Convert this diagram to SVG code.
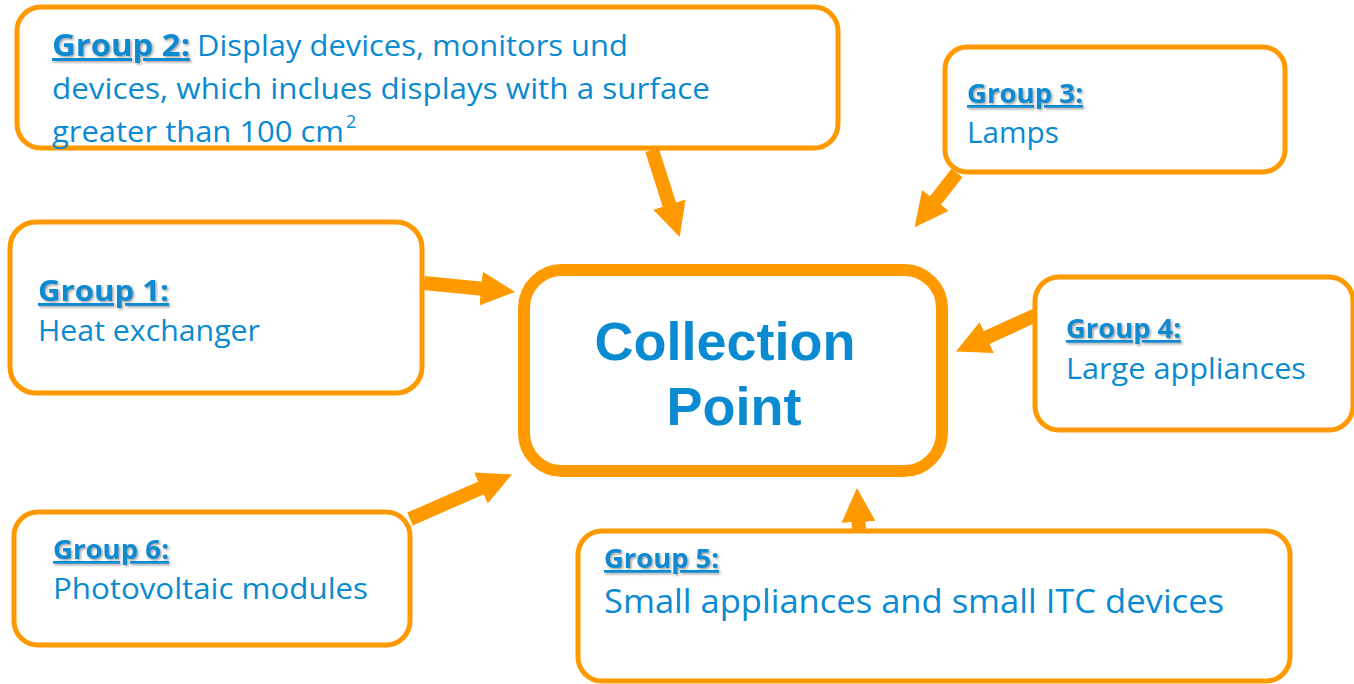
<svg xmlns="http://www.w3.org/2000/svg" width="1354" height="684" viewBox="0 0 1354 684">
<style>
.box{fill:#fff;stroke:#FF9900;stroke-width:5}
.main{fill:#fff;stroke:#FF9900;stroke-width:12}
.lbl{font-family:"Open Sans","Noto Sans",sans-serif;font-weight:bold;fill:#0A8AD0;text-decoration:underline;filter:url(#sh)}
.txt{font-family:"Open Sans","Noto Sans",sans-serif;fill:#0A8AD0}
.cp{font-family:"Liberation Sans",Arial,sans-serif;font-weight:bold;font-size:54px;fill:#0A8AD0;text-anchor:middle}
.arr{stroke:#FF9900;stroke-width:14;fill:none;marker-end:url(#ah)}
</style>
<defs>
<filter id="sh" x="-10%" y="-30%" width="130%" height="170%">
<feDropShadow dx="1.5" dy="1.5" stdDeviation="1" flood-color="#555" flood-opacity="0.55"/>
</filter>
<marker id="ah" markerUnits="userSpaceOnUse" viewBox="0 0 34 34" refX="1" refY="17" markerWidth="34" markerHeight="34" orient="auto">
<path d="M0,0 L34,17 L0,34 Z" fill="#FF9900"/>
</marker>
</defs>
<g id="connectors">
<line class="arr" x1="652" y1="150" x2="669.7" y2="205.6"/>
<line class="arr" x1="957" y1="173" x2="934.9" y2="201.2"/>
<line class="arr" x1="424" y1="283" x2="482.1" y2="288.7"/>
<line class="arr" x1="1036" y1="315" x2="985.9" y2="337.9"/>
<line class="arr" x1="410" y1="519" x2="481.8" y2="487.6"/>
<line class="arr" x1="859" y1="531" x2="858.5" y2="521"/>
</g>
<g id="group2">
<rect class="box" x="17" y="7" width="821" height="141" rx="24"/>
<text class="lbl" x="52" y="56" font-size="30" textLength="138" lengthAdjust="spacingAndGlyphs">Group 2:</text>
<text class="txt" x="197" y="56" font-size="30" textLength="431" lengthAdjust="spacingAndGlyphs">Display devices, monitors und</text>
<text class="txt" x="52" y="99" font-size="30" textLength="658" lengthAdjust="spacingAndGlyphs">devices, which inclues displays with a surface</text>
<text class="txt" x="52" y="142" font-size="30" textLength="292" lengthAdjust="spacingAndGlyphs">greater than 100 cm</text>
<text class="txt" x="346" y="128" font-size="18">2</text>
</g>
<g id="group3">
<rect class="box" x="945" y="47" width="340" height="125" rx="22"/>
<text class="lbl" x="967" y="103" font-size="27" textLength="116" lengthAdjust="spacingAndGlyphs">Group 3:</text>
<text class="txt" x="967" y="143" font-size="30" textLength="92" lengthAdjust="spacingAndGlyphs">Lamps</text>
</g>
<g id="group1">
<rect class="box" x="10" y="222" width="412" height="171" rx="26"/>
<text class="lbl" x="38" y="301" font-size="29" textLength="131" lengthAdjust="spacingAndGlyphs">Group 1:</text>
<text class="txt" x="38" y="341" font-size="30" textLength="222" lengthAdjust="spacingAndGlyphs">Heat exchanger</text>
</g>
<g id="collection">
<rect class="main" x="524" y="270" width="418" height="201" rx="38"/>
<text class="cp" x="725" y="360">Collection</text>
<text class="cp" x="734" y="425">Point</text>
</g>
<g id="group4">
<rect class="box" x="1035" y="277" width="318" height="153" rx="24"/>
<text class="lbl" x="1066" y="338" font-size="27" textLength="115" lengthAdjust="spacingAndGlyphs">Group 4:</text>
<text class="txt" x="1066" y="379" font-size="30" textLength="240" lengthAdjust="spacingAndGlyphs">Large appliances</text>
</g>
<g id="group6">
<rect class="box" x="14" y="512" width="396" height="133" rx="24"/>
<text class="lbl" x="53" y="559" font-size="27" textLength="116" lengthAdjust="spacingAndGlyphs">Group 6:</text>
<text class="txt" x="53" y="599" font-size="30" textLength="315" lengthAdjust="spacingAndGlyphs">Photovoltaic modules</text>
</g>
<g id="group5">
<rect class="box" x="578" y="531" width="712" height="150" rx="24"/>
<text class="lbl" x="604" y="568" font-size="27" textLength="115" lengthAdjust="spacingAndGlyphs">Group 5:</text>
<text class="txt" x="604" y="613" font-size="33" textLength="620" lengthAdjust="spacingAndGlyphs">Small appliances and small ITC devices</text>
</g>
</svg>
